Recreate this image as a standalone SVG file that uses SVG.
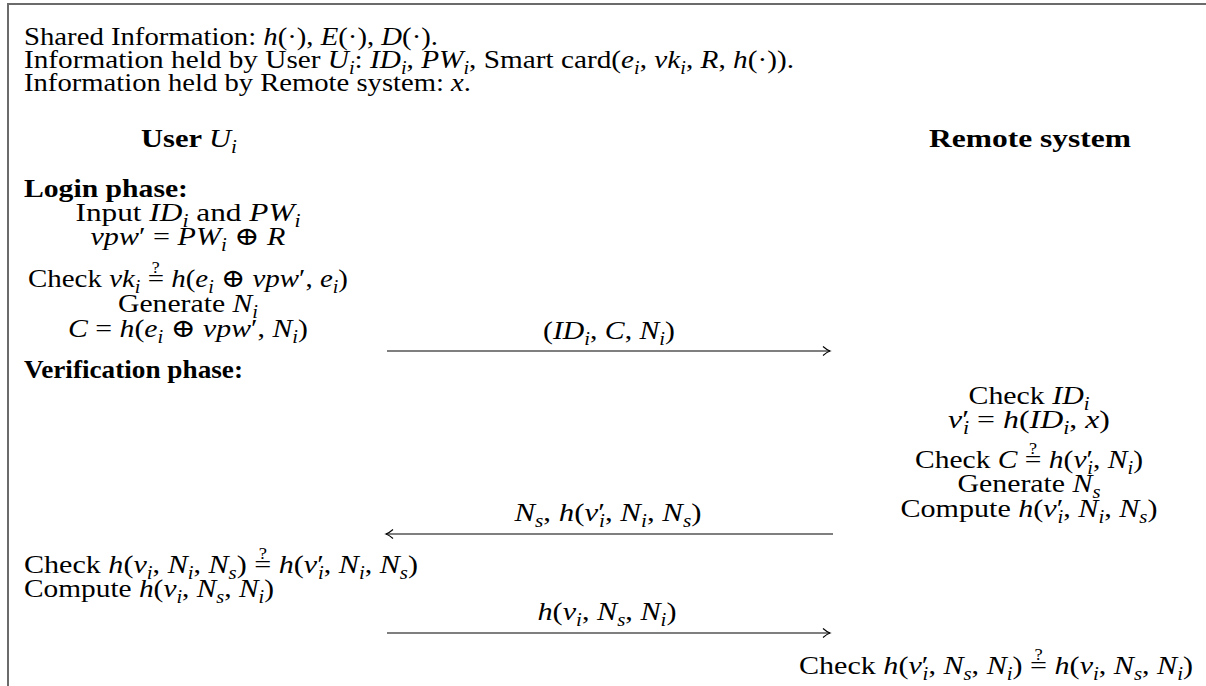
<svg xmlns="http://www.w3.org/2000/svg" width="1206" height="686" viewBox="0 0 1206 686">
<style>
text{font-family:"Liberation Serif","DejaVu Serif",serif;font-size:26px;fill:#000}
.i{font-style:italic}
.b{font-weight:bold}
.s{font-size:18px;font-style:italic;baseline-shift:-6px}
.q{font-size:16px}
.m{text-anchor:middle}
.arrow{stroke:#000;stroke-width:1.2;fill:none}
</style>
<defs>
<marker id="ah" markerWidth="12" markerHeight="12" refX="10" refY="6" orient="auto" markerUnits="userSpaceOnUse">
<path d="M3 1.5 Q7 5 10 6 Q7 7 3 10.5" fill="none" stroke="#000" stroke-width="1.1"/>
</marker>
</defs>
<rect width="1206" height="686" fill="#fff"/>
<path d="M8 686 V4 H1206" fill="none" stroke="#6b6b6b" stroke-width="2"/>
<g id="header">
<text x="24" y="45" textLength="414" lengthAdjust="spacingAndGlyphs">Shared Information: <tspan class="i">h</tspan>(·), <tspan class="i">E</tspan>(·), <tspan class="i">D</tspan>(·).</text>
<text x="24" y="68" textLength="770" lengthAdjust="spacingAndGlyphs">Information held by User <tspan class="i">U</tspan><tspan class="s">i</tspan>: <tspan class="i">ID</tspan><tspan class="s">i</tspan>, <tspan class="i">PW</tspan><tspan class="s">i</tspan>, Smart card(<tspan class="i">e</tspan><tspan class="s">i</tspan>, <tspan class="i">vk</tspan><tspan class="s">i</tspan>, <tspan class="i">R</tspan>, <tspan class="i">h</tspan>(·)).</text>
<text x="24" y="91" textLength="447" lengthAdjust="spacingAndGlyphs">Information held by Remote system: <tspan class="i">x</tspan>.</text>
</g>
<g id="user">
<text class="m" x="189" y="147" textLength="96" lengthAdjust="spacingAndGlyphs"><tspan class="b">User </tspan><tspan class="i">U</tspan><tspan class="s">i</tspan></text>
</g>
<g id="remote">
<text class="m b" x="1030" y="147" textLength="202" lengthAdjust="spacingAndGlyphs">Remote system</text>
</g>
<g id="login">
<text class="b" x="24" y="197" textLength="164" lengthAdjust="spacingAndGlyphs">Login phase:</text>
<text class="m" x="188" y="221" textLength="225" lengthAdjust="spacingAndGlyphs">Input <tspan class="i">ID</tspan><tspan class="s">i</tspan> and <tspan class="i">PW</tspan><tspan class="s">i</tspan></text>
<text class="m" x="188" y="245" textLength="195" lengthAdjust="spacingAndGlyphs"><tspan class="i">vpw</tspan>′ = <tspan class="i">PW</tspan><tspan class="s">i</tspan> ⊕ <tspan class="i">R</tspan></text>
<text class="m" x="188" y="287" textLength="320" lengthAdjust="spacingAndGlyphs">Check <tspan class="i">vk</tspan><tspan class="s">i</tspan> =<tspan class="q" dx="-10.9" dy="-14">?</tspan><tspan dx="3.8" dy="14"> </tspan><tspan class="i">h</tspan>(<tspan class="i">e</tspan><tspan class="s">i</tspan> ⊕ <tspan class="i">vpw</tspan>′, <tspan class="i">e</tspan><tspan class="s">i</tspan>)</text>
<text class="m" x="188" y="312" textLength="140" lengthAdjust="spacingAndGlyphs">Generate <tspan class="i">N</tspan><tspan class="s">i</tspan></text>
<text class="m" x="188" y="337" textLength="240" lengthAdjust="spacingAndGlyphs"><tspan class="i">C</tspan> = <tspan class="i">h</tspan>(<tspan class="i">e</tspan><tspan class="s">i</tspan> ⊕ <tspan class="i">vpw</tspan>′, <tspan class="i">N</tspan><tspan class="s">i</tspan>)</text>
</g>
<g id="verification">
<text class="b" x="24" y="378" textLength="219" lengthAdjust="spacingAndGlyphs">Verification phase:</text>
</g>
<g id="server-check">
<text class="m" x="1029" y="404" textLength="121" lengthAdjust="spacingAndGlyphs">Check <tspan class="i">ID</tspan><tspan class="s">i</tspan></text>
<text class="m" x="1029" y="428" textLength="162" lengthAdjust="spacingAndGlyphs"><tspan class="i">v</tspan>′<tspan class="s" dx="-5">i</tspan> = <tspan class="i">h</tspan>(<tspan class="i">ID</tspan><tspan class="s">i</tspan>, <tspan class="i">x</tspan>)</text>
<text class="m" x="1029" y="468" textLength="228" lengthAdjust="spacingAndGlyphs">Check <tspan class="i">C</tspan> =<tspan class="q" dx="-10.9" dy="-14">?</tspan><tspan dx="3.8" dy="14"> </tspan><tspan class="i">h</tspan>(<tspan class="i">v</tspan>′<tspan class="s" dx="-5">i</tspan>, <tspan class="i">N</tspan><tspan class="s">i</tspan>)</text>
<text class="m" x="1029" y="492" textLength="143" lengthAdjust="spacingAndGlyphs">Generate <tspan class="i">N</tspan><tspan class="s">s</tspan></text>
<text class="m" x="1029" y="517" textLength="257" lengthAdjust="spacingAndGlyphs">Compute <tspan class="i">h</tspan>(<tspan class="i">v</tspan>′<tspan class="s" dx="-5">i</tspan>, <tspan class="i">N</tspan><tspan class="s">i</tspan>, <tspan class="i">N</tspan><tspan class="s">s</tspan>)</text>
</g>
<g id="user-check">
<text x="24" y="573" textLength="394" lengthAdjust="spacingAndGlyphs">Check <tspan class="i">h</tspan>(<tspan class="i">v</tspan><tspan class="s">i</tspan>, <tspan class="i">N</tspan><tspan class="s">i</tspan>, <tspan class="i">N</tspan><tspan class="s">s</tspan>) =<tspan class="q" dx="-10.9" dy="-14">?</tspan><tspan dx="3.8" dy="14"> </tspan><tspan class="i">h</tspan>(<tspan class="i">v</tspan>′<tspan class="s" dx="-5">i</tspan>, <tspan class="i">N</tspan><tspan class="s">i</tspan>, <tspan class="i">N</tspan><tspan class="s">s</tspan>)</text>
<text x="24" y="597" textLength="250" lengthAdjust="spacingAndGlyphs">Compute <tspan class="i">h</tspan>(<tspan class="i">v</tspan><tspan class="s">i</tspan>, <tspan class="i">N</tspan><tspan class="s">s</tspan>, <tspan class="i">N</tspan><tspan class="s">i</tspan>)</text>
</g>
<g id="server-final">
<text x="799" y="674" textLength="394" lengthAdjust="spacingAndGlyphs">Check <tspan class="i">h</tspan>(<tspan class="i">v</tspan>′<tspan class="s" dx="-5">i</tspan>, <tspan class="i">N</tspan><tspan class="s">s</tspan>, <tspan class="i">N</tspan><tspan class="s">i</tspan>) =<tspan class="q" dx="-10.9" dy="-14">?</tspan><tspan dx="3.8" dy="14"> </tspan><tspan class="i">h</tspan>(<tspan class="i">v</tspan><tspan class="s">i</tspan>, <tspan class="i">N</tspan><tspan class="s">s</tspan>, <tspan class="i">N</tspan><tspan class="s">i</tspan>)</text>
</g>
<g id="connectors">
<line class="arrow" x1="387" y1="351" x2="830" y2="351" marker-end="url(#ah)"/>
<text class="m" x="609" y="339" textLength="132" lengthAdjust="spacingAndGlyphs">(<tspan class="i">ID</tspan><tspan class="s">i</tspan>, <tspan class="i">C</tspan>, <tspan class="i">N</tspan><tspan class="s">i</tspan>)</text>
<line class="arrow" x1="833" y1="534" x2="386" y2="534" marker-end="url(#ah)"/>
<text class="m" x="608" y="521" textLength="187" lengthAdjust="spacingAndGlyphs"><tspan class="i">N</tspan><tspan class="s">s</tspan>, <tspan class="i">h</tspan>(<tspan class="i">v</tspan>′<tspan class="s" dx="-5">i</tspan>, <tspan class="i">N</tspan><tspan class="s">i</tspan>, <tspan class="i">N</tspan><tspan class="s">s</tspan>)</text>
<line class="arrow" x1="387" y1="633" x2="830" y2="633" marker-end="url(#ah)"/>
<text class="m" x="607" y="620" textLength="139" lengthAdjust="spacingAndGlyphs"><tspan class="i">h</tspan>(<tspan class="i">v</tspan><tspan class="s">i</tspan>, <tspan class="i">N</tspan><tspan class="s">s</tspan>, <tspan class="i">N</tspan><tspan class="s">i</tspan>)</text>
</g>
</svg>
